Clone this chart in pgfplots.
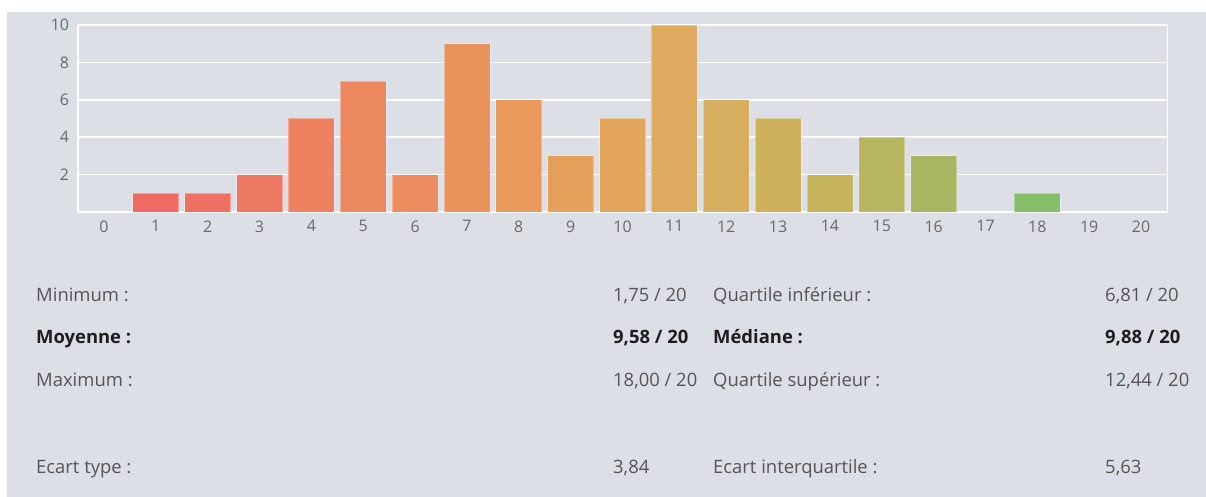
\documentclass[border=0pt]{standalone}
\usepackage{pgfplots}
\pgfplotsset{compat=1.18}
\usepackage{fontspec}
\setmainfont{Open Sans}
\definecolor{panel}{RGB}{220,223,229}
\definecolor{ticktxt}{RGB}{105,105,108}
\definecolor{stattxt}{RGB}{85,85,88}
\definecolor{boldtxt}{RGB}{30,30,32}
\definecolor{c1}{RGB}{238,108,100}
\definecolor{c2}{RGB}{238,113,100}
\definecolor{c3}{RGB}{238,121,98}
\definecolor{c4}{RGB}{237,129,96}
\definecolor{c5}{RGB}{236,136,95}
\definecolor{c6}{RGB}{235,141,94}
\definecolor{c7}{RGB}{234,147,92}
\definecolor{c8}{RGB}{233,153,92}
\definecolor{c9}{RGB}{231,160,92}
\definecolor{c10}{RGB}{228,165,93}
\definecolor{c11}{RGB}{222,170,95}
\definecolor{c12}{RGB}{214,174,95}
\definecolor{c13}{RGB}{206,177,93}
\definecolor{c14}{RGB}{198,180,93}
\definecolor{c15}{RGB}{184,182,96}
\definecolor{c16}{RGB}{168,181,97}
\definecolor{c18}{RGB}{134,189,104}
\pgfplotsset{
  hbar/.style={ybar, bar width=46bp, bar shift=0pt, fill=#1, draw=white, draw opacity=0.35, line width=0.8bp},
}
\newcommand{\statn}{\fontsize{18.5}{20}\selectfont\color{stattxt}}
\newcommand{\statb}{\fontsize{18.5}{20}\selectfont\bfseries\color{boldtxt}}
\begin{document}
\begin{tikzpicture}[x=1bp,y=1bp]
\fill[white] (0,0) rectangle (1206,497);
\fill[panel] (7,0) rectangle (1206,485);
\begin{axis}[
  at={(78bp,285bp)}, anchor=south west,
  scale only axis, width=1089bp, height=187bp,
  xmin=-0.5, xmax=20.5, ymin=0, ymax=10,
  axis x line*=bottom, axis y line*=left,
  axis line style={white, line width=2.5bp},
  xtick={0,...,20}, ytick={2,4,6,8,10},
  major tick length=0pt,
  ymajorgrids, major grid style={white, line width=1.5bp},
  tick label style={font=\fontsize{16}{18}\selectfont, text=ticktxt},
  /pgf/number format/assume math mode=true,
  xticklabel style={yshift=-5bp},
  yticklabel style={xshift=-5.5bp},
  clip=false,
]
\draw[white, line width=1bp] (rel axis cs:1,0) -- (rel axis cs:1,1);
\addplot[hbar=c1] coordinates {(1,1)};
\addplot[hbar=c2] coordinates {(2,1)};
\addplot[hbar=c3] coordinates {(3,2)};
\addplot[hbar=c4] coordinates {(4,5)};
\addplot[hbar=c5] coordinates {(5,7)};
\addplot[hbar=c6] coordinates {(6,2)};
\addplot[hbar=c7] coordinates {(7,9)};
\addplot[hbar=c8] coordinates {(8,6)};
\addplot[hbar=c9] coordinates {(9,3)};
\addplot[hbar=c10] coordinates {(10,5)};
\addplot[hbar=c11] coordinates {(11,10)};
\addplot[hbar=c12] coordinates {(12,6)};
\addplot[hbar=c13] coordinates {(13,5)};
\addplot[hbar=c14] coordinates {(14,2)};
\addplot[hbar=c15] coordinates {(15,4)};
\addplot[hbar=c16] coordinates {(16,3)};
\addplot[hbar=c18] coordinates {(18,1)};
\end{axis}
% statistics
\node[anchor=base west, inner sep=0] at (36,195.5) {\statn Minimum :};
\node[anchor=base west, inner sep=0] at (613,195.5) {\statn 1,75 / 20};
\node[anchor=base west, inner sep=0] at (713,195.5) {\statn Quartile inférieur :};
\node[anchor=base west, inner sep=0] at (1105,195.5) {\statn 6,81 / 20};
\node[anchor=base west, inner sep=0] at (36,153.5) {\statb Moyenne :};
\node[anchor=base west, inner sep=0] at (613,153.5) {\statb 9,58 / 20};
\node[anchor=base west, inner sep=0] at (713,153.5) {\statb Médiane :};
\node[anchor=base west, inner sep=0] at (1105,153.5) {\statb 9,88 / 20};
\node[anchor=base west, inner sep=0] at (36,110.5) {\statn Maximum :};
\node[anchor=base west, inner sep=0] at (613,110.5) {\statn 18,00 / 20};
\node[anchor=base west, inner sep=0] at (713,110.5) {\statn Quartile supérieur :};
\node[anchor=base west, inner sep=0] at (1105,110.5) {\statn 12,44 / 20};
\node[anchor=base west, inner sep=0] at (36,23.5) {\statn Ecart type :};
\node[anchor=base west, inner sep=0] at (613,23.5) {\statn 3,84};
\node[anchor=base west, inner sep=0] at (713,23.5) {\statn Ecart interquartile :};
\node[anchor=base west, inner sep=0] at (1105,23.5) {\statn 5,63};
\end{tikzpicture}
\end{document}
